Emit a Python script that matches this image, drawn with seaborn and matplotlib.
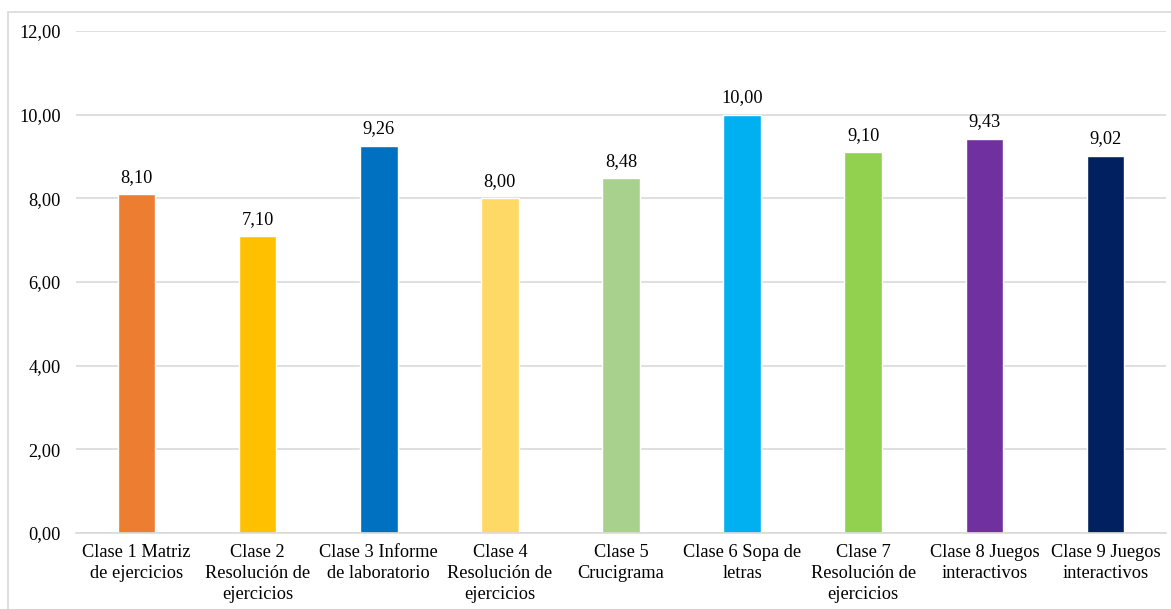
import matplotlib
matplotlib.use("Agg")
import matplotlib.pyplot as plt
from matplotlib.patches import Rectangle
import seaborn as sns
import pandas as pd

categories = [
    "Clase 1 Matriz\nde ejercicios",
    "Clase 2\nResolución de\nejercicios",
    "Clase 3 Informe\nde laboratorio",
    "Clase 4\nResolución de\nejercicios",
    "Clase 5\nCrucigrama",
    "Clase 6 Sopa de\nletras",
    "Clase 7\nResolución de\nejercicios",
    "Clase 8 Juegos\ninteractivos",
    "Clase 9 Juegos\ninteractivos",
]
values = [8.10, 7.10, 9.26, 8.00, 8.48, 10.00, 9.10, 9.43, 9.02]
colors = ["#ED7D31", "#FFC000", "#0070C0", "#FFD966", "#A9D18E",
          "#00B0F0", "#92D050", "#7030A0", "#002060"]
yticks = [0, 2, 4, 6, 8, 10, 12]

sns.set_theme(style="white")
plt.rcParams["font.family"] = ["Liberation Serif", "DejaVu Serif"]

df = pd.DataFrame({"clase": categories, "nota": values})

W, H = 1171, 609
FS = 13.2
fig = plt.figure(figsize=(W / 100, H / 100), dpi=100)
ax = fig.add_axes([76 / W, 1 - 533 / H, (1166 - 76) / W, (533 - 31) / H])

sns.barplot(data=df, x="clase", y="nota", hue="clase", palette=colors,
            width=0.31, legend=False, ax=ax, saturation=1)

ax.set_ylim(0, 12)
ax.set_xlim(-0.5, len(categories) - 0.5)
ax.set_yticks(yticks)
ax.set_yticklabels([f"{v:.2f}".replace(".", ",") for v in yticks])
ax.yaxis.grid(True, color="#D9D9D9", linewidth=1.2)
ax.set_axisbelow(True)
for s in ["top", "right", "left"]:
    ax.spines[s].set_visible(False)
ax.spines["bottom"].set_color("#D9D9D9")
ax.spines["bottom"].set_linewidth(1.2)
ax.tick_params(axis="y", length=0, pad=11, labelsize=FS, colors="black")
ax.tick_params(axis="x", length=0, pad=8, labelsize=FS, colors="black")
for lbl in ax.get_xticklabels():
    lbl.set_linespacing(1.3)
ax.set_xlabel("")
ax.set_ylabel("")

for i, v in enumerate(values):
    ax.annotate(f"{v:.2f}".replace(".", ","), (i, v), xytext=(0, 6),
                textcoords="offset points", ha="center", va="bottom",
                fontsize=FS, color="black")

fig.patches.append(Rectangle((8 / W, -0.1), 1.2, 1 - 12 / H + 0.1,
                             transform=fig.transFigure, fill=False,
                             edgecolor="#D9D9D9", linewidth=1.2))

fig.savefig("out.png", dpi=100, facecolor="white")
